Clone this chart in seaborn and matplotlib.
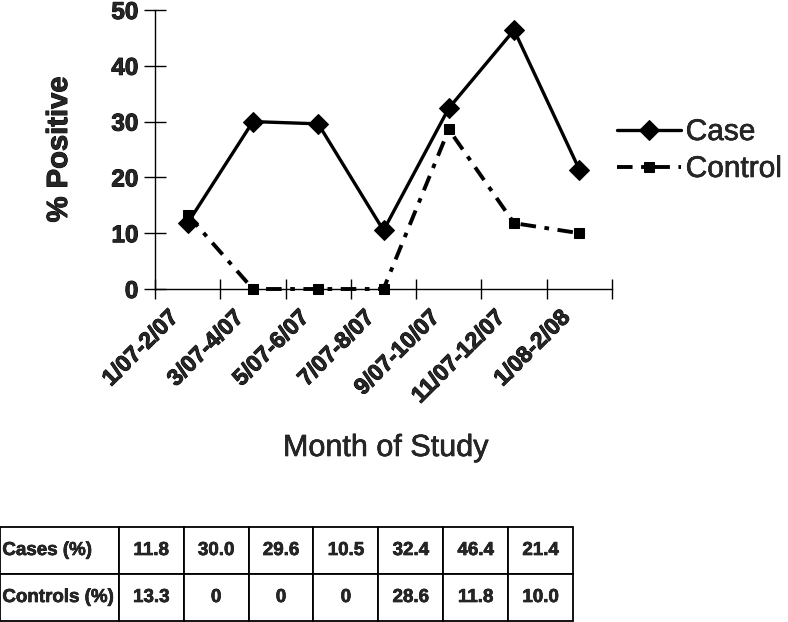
import matplotlib
matplotlib.use("Agg")
import matplotlib.pyplot as plt
from matplotlib.transforms import ScaledTranslation
import matplotlib.patheffects as pe
import seaborn as sns
import pandas as pd
import numpy as np

# ---- data ----
periods = ["1/07-2/07", "3/07-4/07", "5/07-6/07", "7/07-8/07",
           "9/07-10/07", "11/07-12/07", "1/08-2/08"]
case_pct = [11.8, 30.0, 29.6, 10.5, 32.4, 46.4, 21.4]
control_pct = [13.3, 0, 0, 0, 28.6, 11.8, 10.0]
y_ticks = [0, 10, 20, 30, 40, 50]
row_labels = ["Cases (%)", "Controls (%)"]

sns.set_theme(style="white")
plt.rcParams["font.family"] = ["Liberation Sans", "DejaVu Sans"]

heavy = [pe.withStroke(linewidth=0.7, foreground="black")]
light = [pe.withStroke(linewidth=0.45, foreground="black")]
semi = [pe.withStroke(linewidth=0.4, foreground="black")]

W, H = 788, 622
fig = plt.figure(figsize=(W / 100, H / 100), dpi=100)
fig.patch.set_facecolor("white")

# axes in pixel coordinates
x0, x1, ytop, ybot = 155, 612, 10, 289
ax = fig.add_axes([x0 / W, 1 - ybot / H, (x1 - x0) / W, (ybot - ytop) / H])
ax.set_facecolor("white")

pos = np.arange(len(periods))
df = pd.DataFrame({"pos": np.concatenate([pos, pos]),
                   "pct": case_pct + control_pct,
                   "series": ["Case"] * len(pos) + ["Control"] * len(pos)})

sns.lineplot(data=df[df.series == "Case"], x="pos", y="pct", ax=ax,
             color="black", lw=2.4, marker="D", markersize=10.5,
             markeredgecolor="black", label="Case", legend=False)
sns.lineplot(data=df[df.series == "Control"], x="pos", y="pct", ax=ax,
             color="black", lw=2.8, marker="s", markersize=6.5,
             markeredgecolor="black", label="Control", legend=False)
ctrl_line = ax.get_lines()[-1]
ctrl_line.set_dashes([4, 2.2, 1.2, 2.2])
for ln in ax.get_lines():
    ln.set_clip_on(False)

ax.set_xlim(-0.5, len(periods) - 0.5)
ax.set_ylim(0, 50)
ax.set_yticks(y_ticks)
ax.set_yticklabels([str(v) for v in y_ticks])

# boundary ticks (major), category labels (minor)
ax.set_xticks(np.arange(-0.5, len(periods), 1.0))
ax.set_xticklabels([])
ax.set_xticks(pos, minor=True)
ax.set_xticklabels(periods, minor=True, rotation=45, ha="right",
                   rotation_mode="anchor", va="center",
                   fontsize=16.5, fontweight="bold")
ax.tick_params(axis="x", which="major", direction="inout", length=15,
               width=1.0, color="black", bottom=True)
ax.tick_params(axis="x", which="minor", length=0, pad=18, bottom=True)
for lab in ax.get_xticklabels(minor=True):
    lab.set_transform(lab.get_transform() +
                      ScaledTranslation(-13 / 100, 0, fig.dpi_scale_trans))
    lab.set_path_effects(heavy)
ax.tick_params(axis="y", direction="inout", length=16, width=1.0,
               color="black", pad=4, left=True, labelsize=17.5)
for lab in ax.get_yticklabels():
    lab.set_fontweight("bold")
    lab.set_path_effects(heavy)

for s in ["top", "right"]:
    ax.spines[s].set_visible(False)
for s in ["left", "bottom"]:
    ax.spines[s].set_color("black")
    ax.spines[s].set_linewidth(1.0)

ax.set_xlabel("Month of Study", fontsize=22)
ax.xaxis.set_label_coords(385.5 / W, 1 - 456 / H, transform=fig.transFigure)
ax.xaxis.label.set_va("baseline")
ax.xaxis.label.set_path_effects(semi)
ax.set_ylabel("% Positive", fontsize=21, fontweight="bold")
ax.yaxis.set_label_coords((73 - x0) / (x1 - x0), 0.5)
ax.yaxis.label.set_path_effects(heavy)

handles = ax.get_lines()
leg = fig.legend(handles=handles, labels=["Case", "Control"],
                 loc="upper left", bbox_to_anchor=(617 / W, 1 - 118 / H),
                 frameon=False, fontsize=21.5, handlelength=2.15,
                 handletextpad=0.15, borderpad=0, borderaxespad=0,
                 labelspacing=0.3)
for t in leg.get_texts():
    t.set_path_effects(semi)

# ---- table ----
tab_ax = fig.add_axes([0, 1 - 621 / H, 573 / W, (621 - 527) / H])
tab_ax.axis("off")
cells = [[row_labels[0]] + [f"{v:.1f}" for v in case_pct],
         [row_labels[1]] + [("0" if v == 0 else f"{v:.1f}") for v in control_pct]]
colw = [119 / 573] + [65 / 573] * len(periods)
tbl = tab_ax.table(cellText=cells, colWidths=colw, bbox=[0, 0, 1, 1],
                   cellLoc="center")
tbl.auto_set_font_size(False)
for (r, c), cell in tbl.get_celld().items():
    cell.set_edgecolor("black")
    cell.set_linewidth(1.3)
    txt = cell.get_text()
    txt.set_fontsize(13.5)
    txt.set_fontweight("bold")
    txt.set_path_effects(light)
    if c == 0:
        txt.set_ha("left")
        cell._loc = "left"
        cell.PAD = 0.02

fig.savefig("out.png", dpi=100)
